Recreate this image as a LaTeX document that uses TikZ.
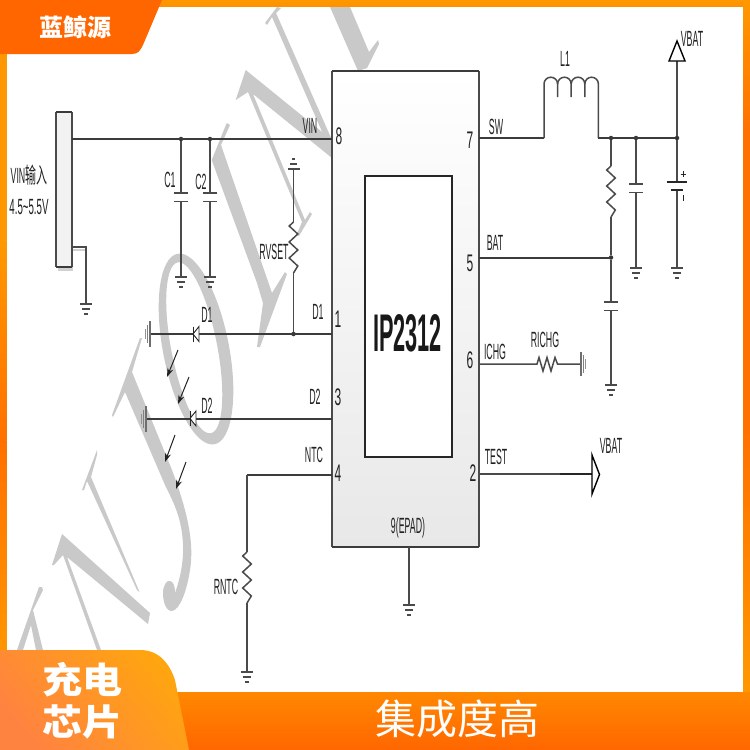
\documentclass[tikz,border=0pt]{standalone}
\usepackage{fontspec}
\setmainfont{Liberation Sans}
\newfontfamily\cjk{Noto Sans CJK SC}
\usetikzlibrary{arrows.meta}
\definecolor{wire}{HTML}{4A4A4A}
\definecolor{ink}{HTML}{222222}
\definecolor{wm}{HTML}{C9C9C9}
\definecolor{oa}{HTML}{FF9800}
\definecolor{ob}{HTML}{FF7000}
\definecolor{oc}{HTML}{FF6600}
\definecolor{ta}{HTML}{FF8340}
\definecolor{tb}{HTML}{FFA50F}
\tikzset{
 wirel/.style={draw=wire,line width=1.5pt},
 wireh/.style={draw=wire!80!black,line width=2pt},
 lab/.style={font=\fontsize{22}{24}\selectfont,text=ink,inner sep=0pt,xscale=.4},
 pin/.style={font=\fontsize{24}{26}\selectfont,text=ink,inner sep=0pt,xscale=.5},
 dotj/.style={circle,fill=wire!70!black,inner sep=0pt,minimum size=4.5pt},
 wmf/.style={fill=wm,draw=none},
 gnd/.pic={\draw[wire,line width=1.6pt] (-6,0)--(6,0) (-3.7,5)--(3.7,5);\draw[wire,line width=1.8pt] (-1.7,10)--(1.7,10);},
 gndlong/.pic={\draw[wire!80!white,line width=2.2pt] (-13,0)--(13,0);\draw[wire!70!white,line width=1.2pt] (-9,2.5)--(9,2.5);\draw[wire!60!white,line width=1pt] (-5,5)--(5,5);},
 zigv/.pic={\draw[wire,line width=1.5pt] (0,0)--(-4.3,4)--(4.3,12)--(-4.3,20)--(4.3,28)--(-4.3,36)--(4.3,44)--(0,51);},
 capv/.pic={\draw[wire,line width=1.8pt] (-6.7,0)--(6.7,0) (-6.7,8.5)--(6.7,8.5);},
 dio/.pic={\draw[black!85,line width=.9pt,fill=white] (0,0)--(6,-7.5)--(6,7.5)--cycle;\draw[black!85,line width=.9pt] (0,-7.5)--(0,7.5);},
 lightarr/.style={draw=ink,line width=1pt,-{Stealth[length=9pt,width=6pt]}}
}
\begin{document}
\begin{tikzpicture}[x=1pt,y=-1pt]
\useasboundingbox (0,0) rectangle (750,750);
\fill[white] (0,0) rectangle (750,750);
% watermark
\fill[wmf] (226.7,123)--(211.7,160)--(257,283)--(263,303)--(257,347)--(260,347)--(287,274)--(285,272)--(272,293)--(221,145)--(230,125)--cycle;
\fill[wmf] (277,7)--(265,23)--(267,25)--(272,17)--(330,150)--(332,140)--(276,13)--(281,8)--cycle;
\fill[wmf] (245.7,70)--(235.7,100)--(248,92)--(302,222)--(297,234)--(299,236)--(312,214)--(310,212)--(305,220)--(253,94)--(332,158)--(332,140)--cycle;
\fill[wmf] (330,7)--(350,7)--(369,52)--(378,40)--(379,44)--(367,68)--(358,71)--cycle;
\fill[wmf,even odd rule,shift={(196,349)},rotate=11] (0,0) ellipse [x radius=33pt,y radius=97pt] (-1.5,-1.5) ellipse [x radius=23pt,y radius=87pt];
\fill[wmf] (142,338)--(140,338)--(112,415)--(113,417)--(125,392)--(165,485) .. controls (175,505) and (182,520) .. (183,545) .. controls (184,565) and (178,585) .. (175,593) .. controls (175,587) and (174,582) .. (170,581) .. controls (167,580) and (163,585) .. (163,593) .. controls (163,600) and (165,611) .. (172,611) .. controls (180,610) and (187,590) .. (190,570) .. controls (195,540) and (185,505) .. (172,470)--(132,372)--cycle;
\fill[wmf] (97,450)--(82,490)--(84,490)--(87,481)--(137,590)--(139.5,592)--(91,477)--(97,455)--cycle;
\fill[wmf] (62,534)--(52,565)--(54,565)--(63,555)--(97,650)--(101,650)--(67,557)--(148,624)--(150,613)--cycle;
\fill[wmf] (42,587)--(39,587)--(17,650)--(23,650)--(31,625)--(36,650)--(43,650)--(33,610)--(43,590)--cycle;
% frame
\shade[top color=oa,bottom color=oa!80!ob] (0,0) rectangle (750,6.5);
\shade[top color=oa,bottom color=oa] (0,0) rectangle (6.5,240);
\shade[top color=oa,bottom color=ob] (0,240) rectangle (6.5,440);
\shade[top color=ob,bottom color=oa] (0,440) rectangle (6.5,660);
\shade[top color=oa,bottom color=ob] (743,0) rectangle (750,130);
\shade[top color=ob,bottom color=ob] (743,130) rectangle (750,430);
\shade[top color=ob,bottom color=oa] (743,430) rectangle (750,692);
\shade[top color=oa!60!ob,bottom color=oc] (0,692) rectangle (750,750);
\fill[oc] (0,0)--(162,0)--(143,45) .. controls (140,51) and (138,54) .. (132,54)--(0,54)--cycle;
\shade[left color=ta,right color=tb,shading angle=130] (0,650)--(140,650) .. controls (160,650) and (170,665) .. (175,680)--(189,750)--(0,750)--cycle;
% chip
\shade[top color=white,bottom color=black!9] (332,71) rectangle (479,547);
\draw[wire,line width=1.2pt] (332,547)--(332,71) (479,71)--(479,547);
\draw[wire!80!black,line width=1.7pt] (332,71)--(479,71) (332,547)--(479,547);
\node[draw=black!85,line width=1.5pt,fill=white,inner sep=0pt,anchor=north west,minimum width=87pt,minimum height=281pt] (core) at (364,175) {};
\node[font=\bfseries\fontsize{53}{55}\selectfont,text=black!90,inner sep=0pt,xscale=.41] (chip) at (407.5,333) {IP2312};
% input connector
\fill[black!18] (58,267) rectangle (73,271);
\fill[black!18] (72,249) rectangle (87,251);
\node[anchor=north west,fill=black!5,inner sep=0pt,minimum width=16pt,minimum height=155pt] (conn) at (56,112) {};
\draw[wire,line width=1.2pt] (56,112)--(56,267) (72,112)--(72,267);
\draw[wire!80!black,line width=1.7pt] (56,112)--(72,112) (56,267)--(72,267);
% coordinates
\coordinate (p8) at (332,139); \coordinate (p1) at (332,334); \coordinate (p3) at (332,418.5); \coordinate (p4) at (332,475);
\coordinate (p7) at (479,138); \coordinate (p5) at (479,257.5); \coordinate (p6) at (479,364); \coordinate (p2) at (479,474); \coordinate (p9) at (409,547);
\coordinate (cin) at (72,139);
\node[dotj] (j1) at (181,139) {}; \node[dotj] (j2) at (210,139) {}; \node[dotj] (j3) at (293.5,334) {};
\node[dotj] (j4) at (611,138) {}; \node[dotj] (j5) at (636,138) {}; \node[dotj] (j6) at (677,138) {}; \node[dotj] (j7) at (611,257.5) {};
% VIN
\draw[wireh] (cin)--(p8);
\draw[wirel] (j1)--(181,193) (181,201.5)--(181,277);
\pic at (181,193) {capv}; \pic at (181,277) {gnd};
\draw[wirel] (j2)--(210,193) (210,201.5)--(210,277);
\pic at (210,193) {capv}; \pic at (210,277) {gnd};
\draw[wirel] (72,247)--(86,247)--(86,304);
\pic at (86,304) {gnd};
% RVSET / D1
\pic[rotate=180] at (293.5,169) {gnd};
\pic at (293.5,222) {zigv};
\draw[wirel] (293.5,169)--(293.5,222) (293.5,273)--(j3);
\draw[wireh] (p1)--(150,334);
\pic[rotate=-90] at (150,334) {gndlong};
\pic at (193,334) {dio};
% D2
\draw[wireh] (p3)--(146,418.5);
\pic[rotate=-90] at (146,418.5) {gndlong};
\pic at (190,418.5) {dio};
% light arrows
\coordinate (a1s) at (178,350); \coordinate (a1e) at (167,377);
\coordinate (a2s) at (189,377); \coordinate (a2e) at (178,404);
\coordinate (a3s) at (175,435); \coordinate (a3e) at (165,462);
\coordinate (a4s) at (186,462); \coordinate (a4e) at (176,489);
\draw[lightarr] (a1s)--(a1e); \draw[lightarr] (a2s)--(a2e); \draw[lightarr] (a3s)--(a3e); \draw[lightarr] (a4s)--(a4e);
% NTC
\draw[wireh] (p4)--(247,475);
\draw[wirel] (247,475)--(247,552) (247,603)--(247,672);
\pic at (247,552) {zigv}; \pic at (247,672) {gnd};
% SW, L1
\draw[wireh] (p7)--(544,138);
\draw[wirel] (544,138)--(544,84) arc[start angle=180,end angle=0,radius=6.8pt]--(557.6,97);
\draw[wirel] (557.6,84) arc[start angle=180,end angle=0,radius=6.8pt]--(571.2,97);
\draw[wirel] (571.2,84) arc[start angle=180,end angle=0,radius=6.8pt]--(584.8,97);
\draw[wirel] (584.8,84) arc[start angle=180,end angle=0,radius=6.8pt]--(598.4,138);
\draw[wireh] (598.4,138)--(j6);
\draw[wirel] (j4)--(611,166) (611,217)--(j7)--(611,302) (611,310.5)--(611,385);
\pic at (611,166) {zigv}; \pic at (611,302) {capv}; \pic at (611,385) {gnd};
\draw[wirel] (j5)--(636,184) (636,192.5)--(636,268);
\pic at (636,184) {capv}; \pic at (636,268) {gnd};
\draw[wirel] (677,61)--(j6)--(677,182) (677,190)--(677,268);
\pic at (677,268) {gnd};
\draw[black!85,line width=1.8pt] (667,182)--(687,182) (671,190)--(683,190);
\draw[black!85,line width=1pt] (683,171)--(683,177) (680.5,174)--(685.5,174) (683,195)--(683,201);
\draw[black,line width=1.4pt,fill=white] (677,41)--(685,61)--(669,61)--cycle;
\draw[wireh] (p5)--(j7);
% ICHG
\draw[wirel] (p6)--(537,364) -- (539,357.5)--(543,371)--(547,357.5)--(551,371)--(555,357.5)--(557.5,364)--(581,364);
\pic[rotate=90,scale=.95] at (581,364) {gndlong};
% TEST
\draw[wirel] (p2)--(560,474);
\draw[black!85,line width=1.8pt] (560,474)--(592,474);
\draw[black,line width=1.4pt,fill=white] (592,455)--(599.5,474.5)--(592,494)--cycle;
% EPAD
\draw[wirel] (p9)--(409,605);
\pic at (409,605) {gnd};
% labels
\node[lab] (tvin) at (310,126) {VIN};
\node[lab] (tin) at (29,175) {VIN\scalebox{1.25}[1]{\cjk 输入}};
\node[lab,xscale=1.1] (tr) at (29,207) {4.5\textasciitilde5.5V};
\node[lab] (tc1) at (170,180) {C1};
\node[lab] (tc2) at (201,182) {C2};
\node[lab] (trv) at (274,252) {RVSET};
\node[lab] (td1a) at (207,315) {D1};
\node[lab] (td1b) at (318,312) {D1};
\node[lab] (td2a) at (207,406) {D2};
\node[lab] (td2b) at (315,397) {D2};
\node[lab] (tntc) at (314,455) {NTC};
\node[lab] (trn) at (226,587) {RNTC};
\node[lab] (tsw) at (496,127) {SW};
\node[lab] (tbat) at (495,243) {BAT};
\node[lab] (tichg) at (495,352) {ICHG};
\node[lab] (trichg) at (545,340) {RICHG};
\node[lab] (ttest) at (496,457) {TEST};
\node[lab] (tl1) at (565,59) {L1};
\node[lab] (tvb1) at (692,39) {VBAT};
\node[lab] (tvb2) at (611,446) {VBAT};
\node[lab] (tep) at (408,528) {9(EPAD)};
\node[pin] (n8) at (339,136) {8};
\node[pin] (n1) at (338,319) {1};
\node[pin] (n3) at (338,397) {3};
\node[pin] (n4) at (338,473) {4};
\node[pin] (n7) at (470,140) {7};
\node[pin] (n5) at (470,263) {5};
\node[pin] (n6) at (470,360) {6};
\node[pin] (n2) at (473,473) {2};
% banner text
\node[font=\cjk\bfseries\fontsize{24}{26}\selectfont,text=white,inner sep=0pt] (brand) at (75,27) {蓝鲸源};
\node[font=\cjk\bfseries\fontsize{40}{40}\selectfont,text=white,inner sep=0pt,yscale=.9] (t1) at (82.5,680) {充电};
\node[font=\cjk\bfseries\fontsize{40}{40}\selectfont,text=white,inner sep=0pt,yscale=.9] (t2) at (82.5,722) {芯片};
\node[font=\cjk\fontsize{41}{41}\selectfont,text=white,inner sep=0pt] (t3) at (457,719) {集成度高};
\end{tikzpicture}
\end{document}
